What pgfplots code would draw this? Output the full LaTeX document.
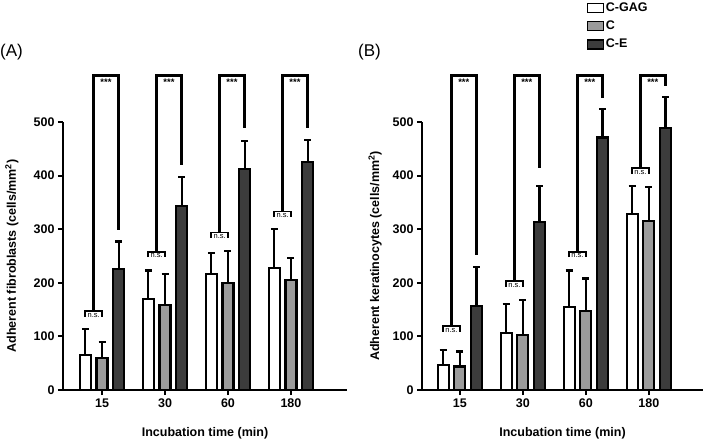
\documentclass[border=0pt]{standalone}
\usepackage{fontspec}
\setmainfont{Liberation Sans}
\usepackage{pgfplots}
\pgfplotsset{compat=1.18}
\definecolor{cgrey}{HTML}{9B9B9B}
\definecolor{cdark}{HTML}{3C3C3C}

\newcommand{\brk}[3]{%
  \draw[line width=2.7pt, line join=miter] ([xshift=-8.5pt]axis cs:#1,#2) |- ([xshift=16.7pt]axis cs:#1,587) -- ([xshift=16.7pt]axis cs:#1,#3);
  \node[font=\bfseries\fontsize{9.5}{9.5}\selectfont, anchor=north, inner sep=0pt] at ([xshift=4pt, yshift=-3.5pt]axis cs:#1,587) {***};
  \draw[line width=1.8pt, line join=miter] ([xshift=-16.7pt, yshift=-5.5pt]axis cs:#1,#2) -- ([xshift=-16.7pt]axis cs:#1,#2) -- (axis cs:#1,#2) -- ([yshift=-5.5pt]axis cs:#1,#2);
  \node[font=\fontsize{7.5}{7.5}\selectfont, anchor=north, inner sep=0pt] at ([xshift=-8.3pt, yshift=-2pt]axis cs:#1,#2) {n.s.};
}

\pgfplotsset{
  eb/.style={line width=2.2pt, draw=black,
    error bars/y dir=plus, error bars/y explicit,
    error bars/error bar style={line width=2.2pt, black, solid},
    error bars/error mark options={rotate=90, line width=2.2pt, mark size=3.5pt, black, solid}},
  mystyle/.style={
    scale only axis, height=268pt, ymin=0, ymax=500, clip=false,
    axis x line*=bottom, axis y line*=left,
    axis line style={line width=2pt, -},
    ytick={0,100,...,500}, xtick={0,1,2,3}, xticklabels={15,30,60,180},
    tick align=outside, major tick length=5pt,
    tick style={line width=2pt, black},
    tick label style={font=\bfseries\fontsize{12.5}{12.5}\selectfont},
    /pgf/number format/assume math mode=true,
    label style={font=\bfseries\fontsize{12.5}{14}\selectfont},
    ybar, bar width=11pt,
    xlabel style={at={(axis description cs:0.5,-0.16)}, anchor=center},
  }
}

\begin{document}
\begin{tikzpicture}
\useasboundingbox (0pt,0pt) rectangle (709pt,444pt);

\node[font=\fontsize{17}{17}\selectfont, anchor=west, inner sep=0pt] at (0pt,392pt) {(A)};
\node[font=\fontsize{17}{17}\selectfont, anchor=west, inner sep=0pt] at (358pt,392pt) {(B)};

% Panel A
\begin{axis}[mystyle, at={(63pt,54pt)}, anchor=south west, width=284pt,
  xmin=-0.62, xmax=3.89,
  xlabel={Incubation time (min)},
  ylabel={Adherent fibroblasts (cells/mm\textsuperscript{2})},
  ylabel style={at={(axis description cs:-0.18,0.5)}, anchor=center}]
\addplot[fill=white, bar shift=-16.7pt, eb] coordinates {
  (0,66) +- (0,48)
  (1,170) +- (0,53)
  (2,216) +- (0,39)
  (3,228) +- (0,72)
};
\addplot[fill=cgrey, bar shift=0pt, eb] coordinates {
  (0,59) +- (0,30)
  (1,158) +- (0,59)
  (2,199) +- (0,61)
  (3,205) +- (0,41)
};
\addplot[fill=cdark, bar shift=16.7pt, eb] coordinates {
  (0,225) +- (0,52)
  (1,343) +- (0,55)
  (2,412) +- (0,52)
  (3,425) +- (0,41)
};
\brk{0}{147}{298}
\brk{1}{258}{420}
\brk{2}{294}{488}
\brk{3}{333}{488}
\end{axis}

% Panel B
\begin{axis}[mystyle, at={(422pt,54pt)}, anchor=south west, width=281pt,
  xmin=-0.60, xmax=3.86,
  xlabel={Incubation time (min)},
  ylabel={Adherent keratinocytes (cells/mm\textsuperscript{2})},
  ylabel style={at={(axis description cs:-0.167,0.5)}, anchor=center},
  legend style={draw=none, fill=none, at={(axis description cs:0.585,1.453)}, anchor=north west,
    font=\bfseries\fontsize{12.5}{12.5}\selectfont, row sep=4pt, inner sep=0pt, cells={anchor=west}},
  legend image code/.code={\draw[#1, line width=1.3pt] (0pt,-4.5pt) rectangle (16pt,4.5pt);},
  legend entries={C-GAG, C, C-E}]
\addplot[fill=white, bar shift=-16.7pt, eb] coordinates {
  (0,47) +- (0,27)
  (1,107) +- (0,54)
  (2,155) +- (0,68)
  (3,328) +- (0,53)
};
\addplot[fill=cgrey, bar shift=0pt, eb] coordinates {
  (0,44) +- (0,28)
  (1,103) +- (0,65)
  (2,147) +- (0,61)
  (3,315) +- (0,63)
};
\addplot[fill=cdark, bar shift=16.7pt, eb] coordinates {
  (0,157) +- (0,73)
  (1,314) +- (0,67)
  (2,471) +- (0,53)
  (3,489) +- (0,57)
};
\brk{0}{119}{252}
\brk{1}{203}{414}
\brk{2}{258}{544}
\brk{3}{414}{567}
\end{axis}
\end{tikzpicture}
\end{document}
